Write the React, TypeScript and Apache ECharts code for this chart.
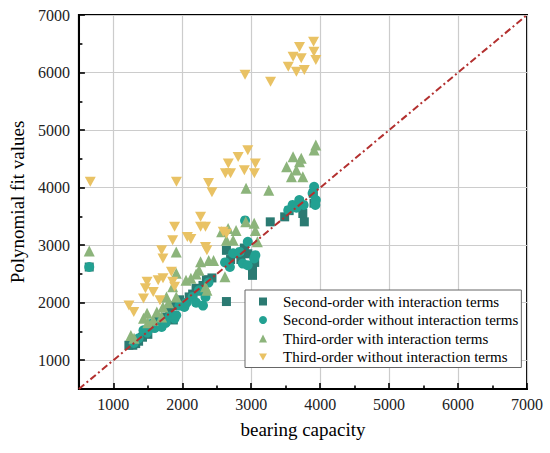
import React, { useEffect, useRef } from "react";
import * as echarts from "echarts";

const seriesNames = [
  "Second-order with interaction terms",
  "Second-order without interaction terms",
  "Third-order with interaction terms",
  "Third-order without interaction terms",
];

const secondWith: number[][] = [
  [650, 2620], [1225, 1260], [1282, 1260], [1324, 1289], [1366, 1330], [1423, 1400], [1437, 1470],
  [1500, 1450], [1560, 1560], [1600, 1620], [1650, 1700], [1700, 1650], [1750, 1750], [1818, 1850],
  [1870, 1700], [1900, 1950], [1960, 2050], [2030, 2000], [2100, 2100], [2150, 2150], [2200, 2250],
  [2243, 2200], [2300, 2300], [2350, 2400], [2430, 2430], [2640, 2020], [2640, 2910], [2660, 2700],
  [2700, 2750], [2780, 2850], [2850, 2750], [2900, 2950], [2950, 2850], [3018, 2565], [3018, 2475],
  [3050, 2700], [3276, 3405], [3485, 3492], [3550, 3600], [3627, 3680], [3700, 3750], [3748, 3550],
  [3770, 3405], [3900, 3900], [3910, 3730],
];

const secondWithout: number[][] = [
  [650, 2620], [1296, 1300], [1366, 1380], [1437, 1521], [1490, 1480], [1560, 1637], [1600, 1560],
  [1700, 1579], [1700, 1695], [1760, 1650], [1818, 1760], [1888, 1724], [1912, 1782], [1960, 1950],
  [2030, 1927], [2060, 2000], [2150, 2100], [2200, 2000], [2243, 2217], [2300, 1950], [2336, 2100],
  [2380, 2350], [2620, 2700], [2690, 2620], [2737, 2860], [2830, 2883], [2877, 2680], [2948, 2652],
  [2950, 3058], [2910, 3430], [3043, 2770], [3060, 2826], [3537, 3608], [3600, 3700], [3655, 3650],
  [3697, 3783], [3760, 3700], [3890, 3900], [3912, 4014], [3937, 3783], [3930, 3700],
];

const thirdWith: number[][] = [
  [650, 2900], [1254, 1430], [1300, 1380], [1437, 1730], [1489, 1817], [1500, 1650], [1578, 1695],
  [1630, 1840], [1700, 1750], [1719, 1927], [1771, 2100], [1800, 2000], [1860, 2275], [1912, 2100],
  [1912, 2510], [1912, 2883], [2054, 2390], [2124, 2426], [2200, 2500], [2243, 2565], [2265, 2710],
  [2336, 2275], [2357, 2217], [2383, 2735], [2453, 2735], [2570, 3232], [2618, 2450], [2640, 3087],
  [2665, 3290], [2737, 3087], [2780, 3256], [2920, 3405], [2925, 3990], [3043, 3380], [3060, 3256],
  [3089, 3058], [3254, 3956], [3513, 4362], [3583, 4188], [3607, 4536], [3655, 4304], [3700, 4450],
  [3725, 4510], [3748, 4188], [3912, 4652], [3937, 4740],
];

const thirdWithout: number[][] = [
  [665, 4100], [1226, 1953], [1296, 1840], [1437, 2075], [1465, 2250], [1489, 2362], [1578, 2188],
  [1650, 2390], [1676, 2043], [1700, 2913], [1719, 2770], [1720, 2426], [1842, 2536], [1860, 2362],
  [1860, 3087], [1888, 2275], [1888, 3318], [1915, 4100], [2073, 3143], [2124, 3108], [2265, 3492],
  [2265, 3318], [2336, 3318], [2336, 2970], [2357, 2913], [2380, 4080], [2430, 3920], [2594, 3232],
  [2625, 4250], [2640, 3200], [2667, 4420], [2700, 4250], [2810, 4530], [2900, 4300], [2910, 5960],
  [2950, 4650], [3045, 4250], [3060, 4420], [3280, 5840], [3537, 6101], [3607, 6275], [3655, 6014],
  [3700, 6443], [3725, 6250], [3770, 6043], [3904, 6536], [3909, 6362], [3937, 6217],
];

const diagonal: number[][] = [
  [500, 500],
  [7000, 7000],
];

const axisMin = 500;
const axisMax = 7000;

const FONT = "Liberation Serif, Times New Roman, serif";
const DOWN_TRIANGLE = "path://M0,0L20,0L10,17.3Z";

export default function App() {
  const ref = useRef<HTMLDivElement>(null);
  useEffect(() => {
    if (!ref.current) return;
    const chart = echarts.init(ref.current, undefined, { renderer: "svg" });
    const valueAxis = (name: string, nameGap: number, margin: number) => ({
      type: "value",
      min: axisMin,
      max: axisMax,
      minInterval: 1000,
      maxInterval: 1000,
      name,
      nameLocation: "middle",
      nameGap,
      nameTextStyle: { fontFamily: FONT, fontSize: 19, color: "#000" },
      axisLine: { show: true, lineStyle: { color: "#000", width: 2 } },
      axisTick: { show: true, inside: true, length: 6, lineStyle: { color: "#000", width: 1.6 } },
      minorTick: { show: true, splitNumber: 2, length: 3.5, lineStyle: { color: "#000", width: 1.6 } },
      axisLabel: {
        fontFamily: FONT,
        fontSize: 16,
        color: "#222",
        margin,
        formatter: (v: number) => (v === axisMin ? "" : String(v)),
      },
      splitLine: { show: true, lineStyle: { color: "#cccccc", width: 1.2 } },
    });
    chart.setOption({
      animation: false,
      backgroundColor: "#fff",
      textStyle: { fontFamily: FONT },
      grid: {
        left: 67,
        right: 23,
        top: 15,
        bottom: 64,
        show: true,
        borderColor: "#000",
        borderWidth: 2,
        backgroundColor: "transparent",
      },
      xAxis: valueAxis("bearing capacity", 31, 7),
      yAxis: valueAxis("Polynomial fit values", 41, 9),
      legend: {
        data: [
          { name: seriesNames[0], icon: "rect" },
          { name: seriesNames[1], icon: "circle" },
          { name: seriesNames[2], icon: "triangle" },
          { name: seriesNames[3], icon: DOWN_TRIANGLE },
        ],
        orient: "vertical",
        left: 245,
        top: 290,
        padding: [4, 3, 3, 14],
        itemGap: 3.5,
        itemWidth: 8,
        itemHeight: 8,
        borderColor: "#666",
        borderWidth: 1,
        borderRadius: 0,
        backgroundColor: "#fff",
        textStyle: { fontFamily: FONT, fontSize: 15, color: "#000", padding: [0, 0, 0, 11] },
      },
      series: [
        {
          name: seriesNames[0],
          type: "scatter",
          symbol: "rect",
          symbolSize: 9,
          itemStyle: { color: "#2b7a72", opacity: 1 },
          data: secondWith,
        },
        {
          name: seriesNames[1],
          type: "scatter",
          symbol: "circle",
          symbolSize: 10,
          itemStyle: { color: "#22a192", opacity: 1 },
          data: secondWithout,
        },
        {
          name: seriesNames[2],
          type: "scatter",
          symbol: "triangle",
          symbolSize: 11,
          itemStyle: { color: "#8cb47b", opacity: 1 },
          data: thirdWith,
        },
        {
          name: seriesNames[3],
          type: "scatter",
          symbol: DOWN_TRIANGLE,
          symbolSize: [11, 10],
          itemStyle: { color: "#e9c264", opacity: 1 },
          data: thirdWithout,
        },
        {
          name: "y = x",
          type: "line",
          data: diagonal,
          showSymbol: false,
          symbol: "none",
          z: 5,
          silent: true,
          lineStyle: { color: "#b3302f", width: 2, type: [7, 3, 2, 3] },
        },
      ],
    });
    return () => chart.dispose();
  }, []);
  return (
    <div
      ref={ref}
      style={{ position: "fixed", left: 0, top: 0, width: 550, height: 453 }}
    />
  );
}
